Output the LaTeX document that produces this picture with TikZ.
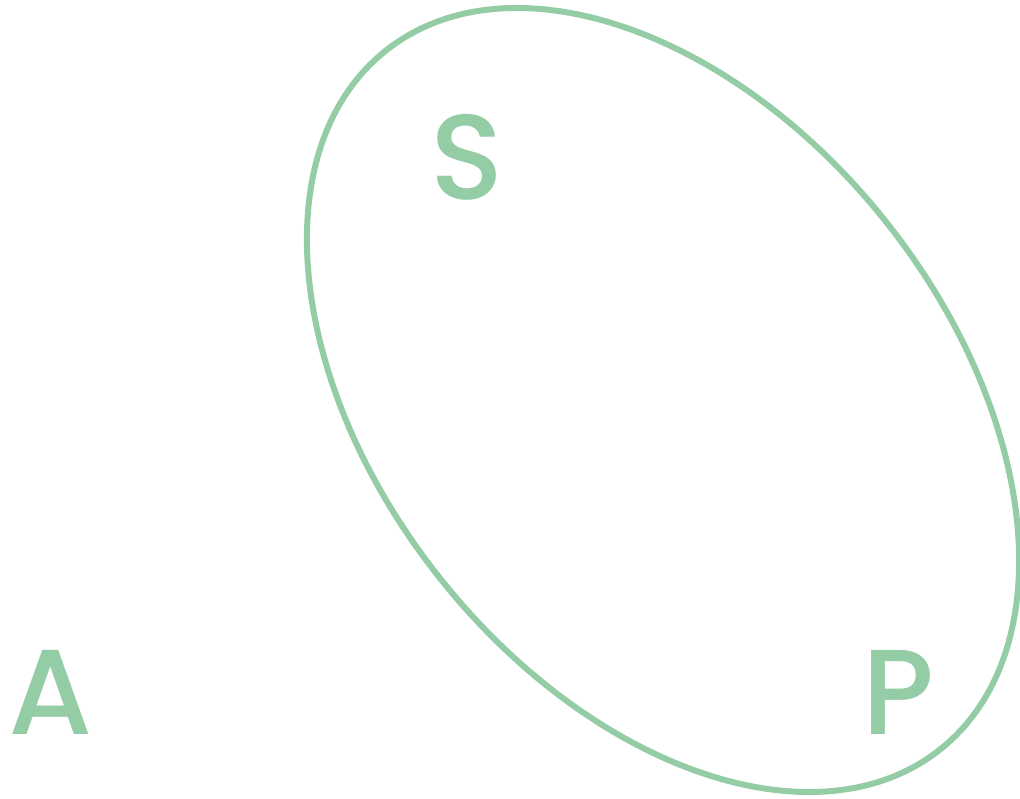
\documentclass[tikz,border=0pt]{standalone}
\usepackage{fontspec}
\newfontfamily\letterfont{Poppins Medium}
\definecolor{leaf}{HTML}{94CCA6}
\tikzset{
  letter/.style={text=leaf, inner sep=0pt, anchor=base, font=\fontsize{121}{121}\letterfont},
  ring/.style={draw=leaf, line width=6pt}
}
\begin{document}
\begin{tikzpicture}[x=1pt,y=1pt]
\useasboundingbox (0,0) rectangle (1020,-799);
\draw[ring, rotate around={-51.6:(663,-400)}] (663,-400) ellipse [x radius=446, y radius=285.5];
\node[letter] (S) at (467,-200) {S};
\node[letter] (A) at (51,-734) {A};
\node[letter] (P) at (898,-734) {P};
\end{tikzpicture}
\end{document}
